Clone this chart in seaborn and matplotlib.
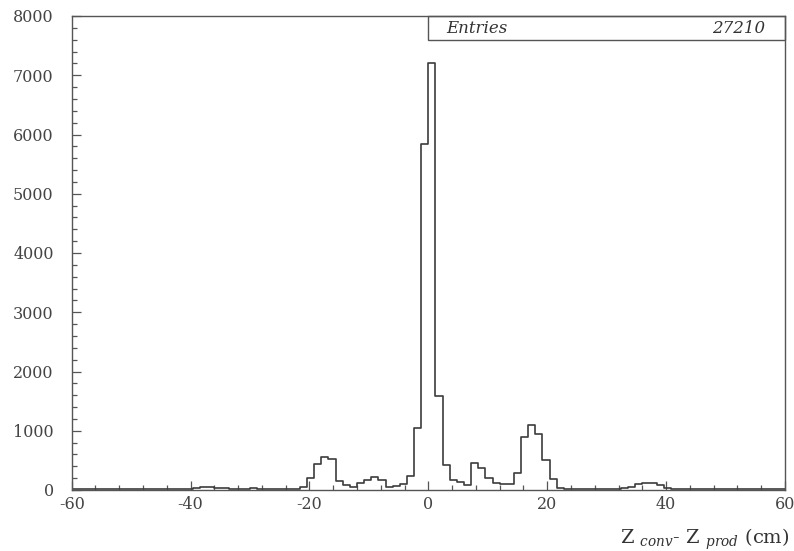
import numpy as np
import pandas as pd
import matplotlib
matplotlib.use("Agg")
import matplotlib.pyplot as plt
import seaborn as sns
from matplotlib.ticker import MultipleLocator, FuncFormatter
from matplotlib.patches import Rectangle

# ---- data ----
x_min, x_max, bin_width = -60, 60, 1.2          # 100 bins of 1.2 cm
counts = [
    10, 15, 20, 10, 15, 20, 15, 10, 20, 15,     # -60 .. -48
    10, 15, 20, 15, 10, 20, 25, 40, 55, 50,     # -48 .. -36
    35, 30, 20, 25, 15, 30, 20, 15, 25, 20,     # -36 .. -24
    15, 20, 50, 210, 440, 550, 520, 160, 84, 50,  # -24 .. -12
    110, 170, 225, 175, 50, 70, 100, 230, 1040, 5840,  # -12 .. 0
    7200, 1580, 415, 175, 140, 84, 450, 370, 210, 115,  # 0 .. 12
    105, 105, 293, 900, 1100, 940, 506, 180, 28, 15,   # 12 .. 24
    20, 10, 15, 20, 15, 20, 25, 30, 45, 100,    # 24 .. 36
    124, 124, 84, 28, 20, 15, 10, 20, 15, 20,   # 36 .. 48
    25, 15, 20, 15, 25, 20, 15, 20, 25, 15,     # 48 .. 60
]
bin_centers = x_min + bin_width * (np.arange(len(counts)) + 0.5)
entries_label = "Entries"
entries_value = "27210"
x_ticks = [-60, -40, -20, 0, 20, 40, 60]
y_ticks = [0, 1000, 2000, 3000, 4000, 5000, 6000, 7000, 8000]

df = pd.DataFrame({"z": bin_centers, "n": counts})

sns.set_style("white")
plt.rcParams["font.family"] = ["DejaVu Serif"]
plt.rcParams["axes.unicode_minus"] = False
plt.rcParams["mathtext.fontset"] = "dejavuserif"

fig = plt.figure(figsize=(7.94, 5.51), dpi=100)
ax = fig.add_axes([71.7 / 794, 1 - 490 / 551, 713.3 / 794, 474 / 551])

line_col = "#3c3c3c"
sns.histplot(data=df, x="z", weights="n", binwidth=bin_width,
             binrange=(x_min, x_max), element="step",
             fill=False, color=line_col, linewidth=1.2, ax=ax)

ax.set_xlim(x_min, x_max)
ax.set_ylim(0, 8000)
ax.set_xticks(x_ticks)
ax.set_yticks(y_ticks)
ax.xaxis.set_minor_locator(MultipleLocator(4))
ax.yaxis.set_minor_locator(MultipleLocator(200))
ax.xaxis.set_major_formatter(FuncFormatter(lambda v, p: f"{int(v)}"))
ax.tick_params(axis="both", which="both", direction="in", colors="#555555",
               labelcolor="#444444", width=0.9, bottom=True, left=True,
               top=False, right=False)
ax.tick_params(axis="both", which="major", length=6.5)
ax.tick_params(axis="both", which="minor", length=3.5)
ax.tick_params(axis="y", which="both", pad=13, labelsize=11.5)
ax.tick_params(axis="x", which="both", pad=4, labelsize=11.5)

for s in ax.spines.values():
    s.set_color("#555555")
    s.set_linewidth(1.0)

ax.set_ylabel("")
ax.set_xlabel(r"Z $_{\mathit{conv}}$- Z $_{\mathit{prod}}$ (cm)",
              fontsize=14, color="#333333", loc="right")
ax.xaxis.set_label_coords(1.006, -0.077)

# Entries box
box = Rectangle((0.4995, 0.949), 0.5005, 0.051, transform=ax.transAxes,
                fill=False, edgecolor="#555555", linewidth=1.0, clip_on=False)
ax.add_patch(box)
ax.text(0.525, 0.9745, entries_label, transform=ax.transAxes, fontsize=12,
        style="italic", va="center", ha="left", color="#333333")
ax.text(0.972, 0.9745, entries_value, transform=ax.transAxes, fontsize=12,
        style="italic", va="center", ha="right", color="#333333")

fig.savefig("out.png", dpi=100, facecolor="white")
